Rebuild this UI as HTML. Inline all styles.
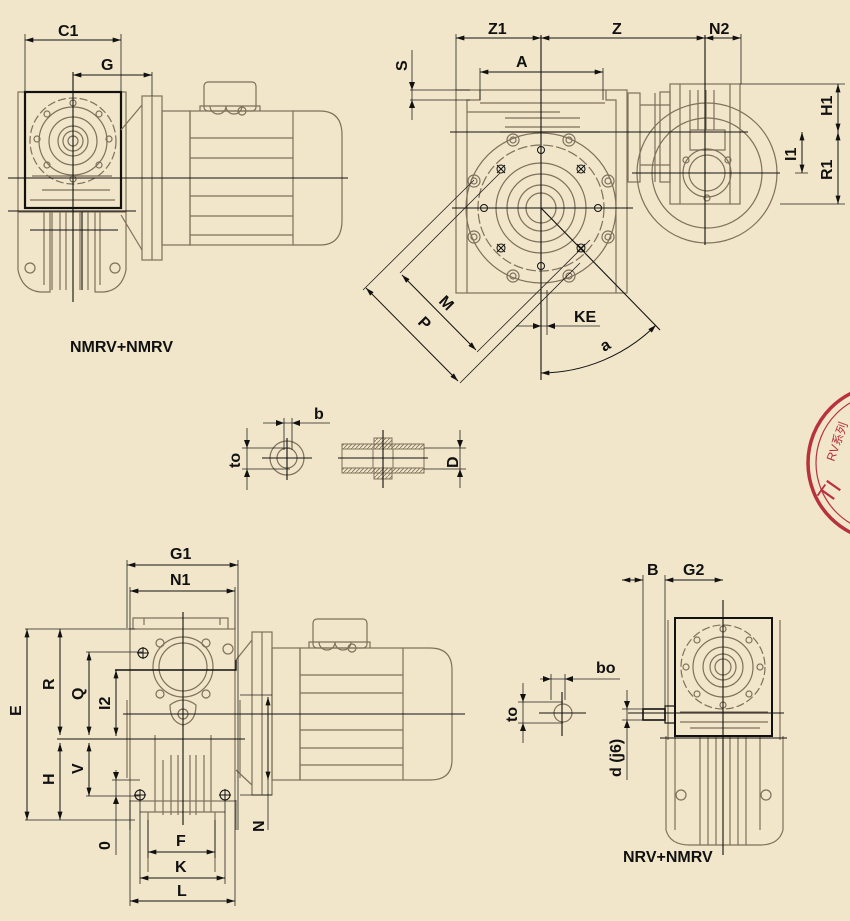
<!DOCTYPE html>
<html><head><meta charset="utf-8"><style>
html,body{margin:0;padding:0;background:#f1e6c9;}
svg{display:block;}
text{font-family:"Liberation Sans","Noto Sans CJK SC",sans-serif;font-size:16px;fill:#111;font-weight:bold;}
.p{fill:none;stroke:#7f705c;stroke-width:1.2;}
.k{fill:none;stroke:#111;stroke-width:1;}
.d{fill:none;stroke:#111;stroke-width:1;marker-start:url(#ar);marker-end:url(#ar);}
.e{fill:none;stroke:#222;stroke-width:0.8;}
.c{fill:none;stroke:#111;stroke-width:1.1;}
</style></head><body>
<svg width="850" height="921" viewBox="0 0 850 921" xmlns="http://www.w3.org/2000/svg">
<defs>
<marker id="ar" viewBox="0 0 10 6" refX="10" refY="3" markerWidth="10" markerHeight="5" orient="auto-start-reverse" markerUnits="userSpaceOnUse"><path d="M0,0 L10,3 L0,6z" fill="#111"/></marker>
<pattern id="h" width="4" height="4" patternUnits="userSpaceOnUse"><path d="M0,4 L4,0" stroke="#7f705c" stroke-width="0.8"/></pattern>
</defs>

<!-- ========== TOP LEFT VIEW ========== -->
<g>
<rect class="p" x="18" y="92" width="108" height="120"/>
<path class="p" d="M18,212 L18,270 Q22,290 40,292 L50,292 L50,212 M126,212 L126,270 Q122,290 104,292 L95,292 L95,212"/>
<path class="p" d="M52,212 V290 M60,212 V290 M66,212 V290 M80,212 V290 M88,212 V290 M44,212 V285 M100,212 V285"/>
<circle class="p" cx="30" cy="268" r="5"/><circle class="p" cx="115" cy="268" r="5"/>
<path class="p" d="M32,176 H112 M42,190 H110 M30,200 H115"/>
<circle class="p" cx="73" cy="141" r="43" stroke-dasharray="8 3"/>
<circle class="p" cx="73" cy="141" r="34"/><circle class="p" cx="73" cy="141" r="24"/>
<circle class="p" cx="73" cy="141" r="15"/><circle class="p" cx="73" cy="141" r="10"/><circle class="p" cx="73" cy="141" r="5"/>
<circle class="p" cx="73" cy="103" r="3"/><circle class="p" cx="73" cy="179" r="3"/><circle class="p" cx="37" cy="139" r="3"/><circle class="p" cx="109" cy="139" r="3"/>
<circle class="p" cx="47" cy="114" r="3"/><circle class="p" cx="99" cy="114" r="3"/><circle class="p" cx="47" cy="165" r="3"/><circle class="p" cx="99" cy="165" r="3"/>
<rect x="25" y="92" width="96" height="116" fill="none" stroke="#111" stroke-width="2.2"/>
<path class="p" d="M121,130 L142,105 M121,215 L142,250"/>
<rect class="p" x="142" y="96" width="20" height="164"/><line class="p" x1="152" y1="96" x2="152" y2="260"/>
<rect class="p" x="162" y="111" width="28" height="134"/>
<rect class="p" x="190" y="111" width="103" height="134"/>
<path class="p" d="M293,111 H320 Q342,111 342,135 V220 Q342,245 320,245 H293"/>
<path class="p" d="M190,138 H293 M190,158 H293 M190,196 H293 M190,216 H293 M190,235 H293"/>
<rect class="p" x="204" y="82" width="52" height="29" rx="4"/>
<path class="p" d="M200,111 V106 H260 V111 M210,106 A8,8 0 0 0 226,106 M226,106 A8,8 0 0 0 242,106"/>
<circle class="p" cx="242" cy="111" r="4"/>
<line class="c" x1="8" y1="178" x2="348" y2="178"/>
<line class="c" x1="8" y1="211" x2="136" y2="211"/>
<line class="c" x1="30" y1="230" x2="118" y2="230"/>
<line class="c" x1="73" y1="72" x2="73" y2="302"/>
<line class="c" x1="82" y1="212" x2="82" y2="290"/>
<path class="e" d="M25,34 V92 M121,34 V92 M152,72 V96"/>
<line class="d" x1="25" y1="40" x2="121" y2="40"/>
<line class="d" x1="73" y1="75" x2="152" y2="75"/>
<text x="58" y="36">C1</text><text x="101" y="70">G</text>
<text x="70" y="352" font-size="15">NMRV+NMRV</text>
</g>

<!-- ========== TOP RIGHT VIEW ========== -->
<g>
<rect class="p" x="456" y="90" width="171" height="203"/>
<path class="p" d="M467,293 V100 H480 V90 M616,293 V100 H606 V90 M467,100 V112 H560 M480,103 H605"/>
<path class="p" d="M505,118 H580 M505,127 H580 M500,132 H600"/>
<circle class="p" cx="541" cy="208" r="75"/>
<circle class="p" cx="541" cy="208" r="63" stroke-dasharray="10 3"/>
<circle class="p" cx="541" cy="208" r="45"/><circle class="p" cx="541" cy="208" r="34"/>
<circle class="p" cx="541" cy="208" r="23"/><circle class="p" cx="541" cy="208" r="15"/>
<g class="p">
<circle cx="513" cy="140" r="6"/><circle cx="569" cy="140" r="6"/><circle cx="474" cy="181" r="6"/><circle cx="608" cy="181" r="6"/>
<circle cx="474" cy="237" r="6"/><circle cx="608" cy="237" r="6"/><circle cx="513" cy="276" r="6"/><circle cx="569" cy="276" r="6"/>
<circle cx="513" cy="140" r="3"/><circle cx="569" cy="140" r="3"/><circle cx="474" cy="181" r="3"/><circle cx="608" cy="181" r="3"/>
<circle cx="474" cy="237" r="3"/><circle cx="608" cy="237" r="3"/><circle cx="513" cy="276" r="3"/><circle cx="569" cy="276" r="3"/>
</g>
<g class="k">
<circle cx="501" cy="169" r="4"/><path d="M497,165 L505,173 M505,165 L497,173"/>
<circle cx="581" cy="169" r="4"/><path d="M577,165 L585,173 M585,165 L577,173"/>
<circle cx="501" cy="248" r="4"/><path d="M497,244 L505,252 M505,244 L497,252"/>
<circle cx="581" cy="248" r="4"/><path d="M577,244 L585,252 M585,244 L577,252"/>
<circle cx="541" cy="150" r="3.5"/><circle cx="541" cy="266" r="3.5"/><circle cx="484" cy="208" r="3.5"/><circle cx="598" cy="208" r="3.5"/>
</g>
<circle class="p" cx="707" cy="173" r="70"/>
<circle class="p" cx="707" cy="173" r="55"/>
<rect class="p" x="628" y="93" width="12" height="89"/>
<path class="p" d="M640,105 H670 M640,165 H670 M655,93 V182"/>
<rect class="p" x="660" y="92" width="10" height="90"/>
<rect class="p" x="670" y="84" width="70" height="120"/>
<path class="p" d="M680,84 V204 M730,84 V204 M690,90 V130 M698,90 V130 M706,90 V130 M714,90 V130 M690,130 H725 V150 H690z"/>
<circle class="p" cx="707" cy="173" r="24"/><circle class="p" cx="707" cy="173" r="18"/>
<circle class="p" cx="686" cy="160" r="3"/><circle class="p" cx="728" cy="160" r="3"/><circle class="p" cx="707" cy="198" r="3"/>
<line class="c" x1="450" y1="132" x2="748" y2="132"/>
<line class="c" x1="452" y1="208" x2="633" y2="208"/>
<line class="c" x1="632" y1="173" x2="780" y2="173"/>
<line class="c" x1="541" y1="35" x2="541" y2="380"/>
<line class="c" x1="705" y1="35" x2="705" y2="245"/>
<line class="c" x1="541" y1="208" x2="660" y2="330"/>
<path class="e" d="M456,34 V90 M741,34 V84 M480,68 V100 M603,68 V100"/>
<line class="d" x1="456" y1="38" x2="541" y2="38"/>
<line class="d" x1="541" y1="38" x2="705" y2="38"/>
<line class="d" x1="705" y1="38" x2="741" y2="38"/>
<line class="d" x1="480" y1="72" x2="603" y2="72"/>
<text x="488" y="34">Z1</text><text x="612" y="34">Z</text><text x="709" y="34">N2</text><text x="516" y="67">A</text>
<path class="e" d="M410,90 H470 M410,100 H470 M412,50 V120"/>
<path d="M409,82 L412,90 L415,82z M409,108 L412,100 L415,108z" fill="#111"/>
<text transform="translate(407,71) rotate(-90)">S</text>
<path class="e" d="M740,84 H845 M780,204 H845 M795,173 H808"/>
<line class="d" x1="838" y1="84" x2="838" y2="132"/>
<line class="d" x1="838" y1="132" x2="838" y2="204"/>
<line class="d" x1="802" y1="132" x2="802" y2="173"/>
<text transform="translate(832,116) rotate(-90)">H1</text>
<text transform="translate(832,180) rotate(-90)">R1</text>
<text transform="translate(796,161) rotate(-90)">I1</text>
<path class="e" d="M363,290 L474,180 M460,383 L580,263 M400,273 L500,173 M477,352 L590,240"/>
<line class="d" x1="366" y1="288" x2="458" y2="381"/>
<line class="d" x1="402" y1="275" x2="476" y2="350"/>
<text transform="translate(438,302) rotate(45)">M</text>
<text transform="translate(417,323) rotate(45)">P</text>
<path class="e" d="M547,290 V335 M516,326 H600"/>
<path d="M533,323 L541,326 L533,329z M555,323 L547,326 L555,329z" fill="#111"/>
<text x="574" y="322">KE</text>
<path class="d" d="M541,373 A165,165 0 0 0 656,325"/>
<text transform="translate(604,352) rotate(-30)">a</text>
</g>

<!-- ========== MIDDLE ========== -->
<g>
<circle class="p" cx="287" cy="458" r="17"/><circle class="p" cx="287" cy="458" r="10"/>
<line class="c" x1="262" y1="458" x2="312" y2="458"/>
<line class="c" x1="287" y1="438" x2="287" y2="480"/>
<path class="e" d="M263,423 H330 M284,418 V450 M292,418 V450 M242,448 H290 M242,469 H290 M247,428 V490"/>
<path d="M276,420 L284,423 L276,426z M300,420 L292,423 L300,426z M244,440 L247,448 L250,440z M244,477 L247,469 L250,477z" fill="#111"/>
<text x="314" y="419">b</text>
<text transform="translate(240,468) rotate(-90)">to</text>
<rect x="342" y="444" width="82" height="29" fill="url(#h)" stroke="#7f705c"/>
<rect x="342" y="449" width="82" height="19" fill="#f1e6c9" stroke="#7f705c"/>
<path d="M374,438 H392 V479 H374z" fill="url(#h)" stroke="#7f705c"/>
<rect x="373" y="449" width="20" height="19" fill="#f1e6c9" stroke="#7f705c"/>
<line class="c" x1="338" y1="458" x2="428" y2="458"/>
<line class="c" x1="383" y1="430" x2="383" y2="488"/>
<path class="e" d="M424,448 H466 M424,469 H466 M460,430 V488"/>
<path d="M457,440 L460,448 L463,440z M457,477 L460,469 L463,477z" fill="#111"/>
<text transform="translate(458,468) rotate(-90)">D</text>
</g>

<!-- stamp -->
<g fill="none" stroke="#b8323c">
<circle cx="886" cy="463" r="78" stroke-width="3.5"/>
<circle cx="886" cy="463" r="70" stroke-width="1.2"/>
</g>
<text transform="translate(834,462) rotate(-70)" style="fill:#b8323c;font-size:12px;font-weight:normal">RV系列</text>
<text transform="translate(830,505) rotate(-55)" style="fill:#b8323c;font-size:24px;font-weight:normal">TI</text>

<!-- ========== BOTTOM LEFT VIEW ========== -->
<g>
<rect class="p" x="130" y="629" width="105" height="172"/>
<path class="p" d="M133,629 V618 H228 V629 M144,618 V625 M220,618 V625"/>
<path class="p" d="M130,800 V830 M236,800 V830 M148,812 V872 M215,812 V872 M140,812 H225"/>
<path class="p" d="M155,735 V812 M163,760 V815 M171,755 V815 M178,755 V815 M190,755 V815 M196,755 V815 M204,755 V812 M211,735 V812"/>
<path class="p" d="M127,700 V778 M240,700 V778"/>
<circle class="p" cx="183" cy="667" r="30"/>
<circle class="p" cx="183" cy="667" r="24"/>
<circle class="p" cx="160" cy="643" r="4"/><circle class="p" cx="206" cy="643" r="4"/><circle class="p" cx="160" cy="694" r="4"/><circle class="p" cx="206" cy="694" r="4"/>
<path class="p" d="M170,705 Q183,695 196,705 Q196,722 183,725 Q170,722 170,705z"/>
<circle class="p" cx="183" cy="714" r="5"/>
<circle class="p" cx="228" cy="649" r="5"/>
<g class="k"><circle cx="143" cy="653" r="5"/><path d="M137,653 H149 M143,647 V659"/>
<circle cx="140" cy="795" r="5"/><path d="M134,795 H146 M140,789 V801"/>
<circle cx="225" cy="795" r="5"/><path d="M219,795 H231 M225,789 V801"/></g>
<path class="p" d="M236,660 L252,640 M236,770 L252,785"/>
<rect class="p" x="252" y="632" width="20" height="163"/><line class="p" x1="262" y1="632" x2="262" y2="795"/>
<rect class="p" x="272" y="648" width="28" height="132"/>
<rect class="p" x="300" y="648" width="103" height="132"/>
<path class="p" d="M403,648 H430 Q452,648 452,670 V760 Q452,780 430,780 H403"/>
<path class="p" d="M300,675 H403 M300,693 H403 M300,730 H403 M300,748 H403 M300,765 H403"/>
<rect class="p" x="313" y="619" width="54" height="29" rx="4"/>
<path class="p" d="M309,648 V642 H370 V648 M319,642 A8,8 0 0 0 335,642 M335,642 A8,8 0 0 0 351,642"/>
<circle class="p" cx="352" cy="648" r="4"/>
<line class="c" x1="123" y1="714" x2="465" y2="714"/>
<line class="c" x1="57" y1="739" x2="245" y2="739"/>
<path d="M115,670 H236 L236,660" fill="none" stroke="#111" stroke-width="1.4"/>
<line class="c" x1="183" y1="612" x2="183" y2="825"/>
<path class="e" d="M127,560 V628 M238,560 V830 M130,587 V629 M235,587 V629"/>
<line class="d" x1="127" y1="565" x2="238" y2="565"/>
<line class="d" x1="130" y1="591" x2="235" y2="591"/>
<text x="170" y="559">G1</text><text x="170" y="585">N1</text>
<path class="e" d="M25,629 H135 M25,820 H135 M86,652 H143 M86,796 H140 M112,780 H140"/>
<line class="d" x1="27" y1="629" x2="27" y2="820"/>
<line class="d" x1="60" y1="629" x2="60" y2="735"/>
<line class="d" x1="60" y1="743" x2="60" y2="820"/>
<line class="d" x1="89" y1="652" x2="89" y2="735"/>
<line class="d" x1="89" y1="743" x2="89" y2="796"/>
<line class="d" x1="116" y1="670" x2="116" y2="736"/>
<path class="e" d="M116,770 V855"/>
<path d="M113,772 L116,780 L119,772z M113,804 L116,796 L119,804z" fill="#111"/>
<text transform="translate(21,716) rotate(-90)">E</text>
<text transform="translate(54,690) rotate(-90)">R</text>
<text transform="translate(54,785) rotate(-90)">H</text>
<text transform="translate(83,700) rotate(-90)">Q</text>
<text transform="translate(83,774) rotate(-90)">V</text>
<text transform="translate(110,710) rotate(-90)">I2</text>
<text transform="translate(110,850) rotate(-90)">0</text>
<path class="e" d="M240,695 H272 M240,795 H272"/>
<line class="d" x1="268" y1="697" x2="268" y2="780"/>
<line class="e" x1="268" y1="780" x2="268" y2="830"/>
<text transform="translate(264,832) rotate(-90)">N</text>
<path class="e" d="M148,820 V858 M215,820 V858 M140,800 V884 M225,800 V884 M130,800 V906 M235,800 V906"/>
<line class="d" x1="148" y1="852" x2="215" y2="852"/>
<line class="d" x1="140" y1="878" x2="225" y2="878"/>
<line class="d" x1="130" y1="901" x2="235" y2="901"/>
<text x="176" y="846">F</text><text x="175" y="872">K</text><text x="177" y="896">L</text>
</g>

<!-- ========== BOTTOM RIGHT VIEW ========== -->
<g>
<path class="p" d="M666,736 V830 Q670,845 690,845 M783,736 V830 Q779,845 760,845 M690,845 H760"/>
<path class="p" d="M675,736 V830 M700,736 V845 M708,736 V845 M716,736 V845 M730,736 V845 M738,736 V845 M746,736 V845 M760,736 V830"/>
<circle class="p" cx="681" cy="795" r="5"/><circle class="p" cx="766" cy="795" r="5"/>
<path class="p" d="M668,620 V740 M780,620 V740"/>
<circle class="p" cx="723" cy="667" r="42" stroke-dasharray="8 3"/>
<circle class="p" cx="723" cy="667" r="30"/><circle class="p" cx="723" cy="667" r="20"/>
<circle class="p" cx="723" cy="667" r="13"/><circle class="p" cx="723" cy="667" r="8"/>
<circle class="p" cx="723" cy="629" r="3"/><circle class="p" cx="723" cy="705" r="3"/><circle class="p" cx="686" cy="667" r="3"/><circle class="p" cx="760" cy="667" r="3"/>
<circle class="p" cx="697" cy="640" r="3"/><circle class="p" cx="749" cy="640" r="3"/><circle class="p" cx="697" cy="694" r="3"/><circle class="p" cx="749" cy="694" r="3"/>
<path class="p" d="M680,712 H768 M680,722 H768 M690,728 H760"/>
<rect x="675" y="618" width="97" height="118" fill="none" stroke="#111" stroke-width="2"/>
<rect x="643" y="709" width="22" height="11" fill="none" stroke="#111" stroke-width="1.6"/>
<rect x="665" y="706" width="10" height="17" fill="none" stroke="#111" stroke-width="1.2"/>
<line class="c" x1="660" y1="738" x2="787" y2="738"/>
<line class="c" x1="628" y1="713" x2="784" y2="713"/>
<line class="c" x1="723" y1="600" x2="723" y2="855"/>
<path class="e" d="M643,575 V709 M665,575 V706"/>
<line class="d" x1="622" y1="580" x2="643" y2="580"/>
<line class="d" x1="665" y1="580" x2="723" y2="580"/>
<text x="647" y="575">B</text><text x="683" y="575">G2</text>
<circle class="p" cx="563" cy="713" r="9"/>
<line class="c" x1="539" y1="713" x2="586" y2="713"/>
<line class="c" x1="562" y1="692" x2="562" y2="736"/>
<path class="e" d="M540,679 H620 M551,674 V700 M565,674 V700 M518,702 H563 M518,723 H563 M523,683 V743"/>
<path d="M543,676 L551,679 L543,682z M573,676 L565,679 L573,682z M520,694 L523,702 L526,694z M520,731 L523,723 L526,731z" fill="#111"/>
<text x="596" y="673">bo</text>
<text transform="translate(517,722) rotate(-90)">to</text>
<path class="e" d="M622,709 H643 M622,720 H643 M627,690 V780"/>
<path d="M624,701 L627,709 L630,701z M624,728 L627,720 L630,728z" fill="#111"/>
<text transform="translate(621,777) rotate(-90)">d (j6)</text>
<text x="623" y="862" font-size="15">NRV+NMRV</text>
</g>
</svg>
</body></html>
